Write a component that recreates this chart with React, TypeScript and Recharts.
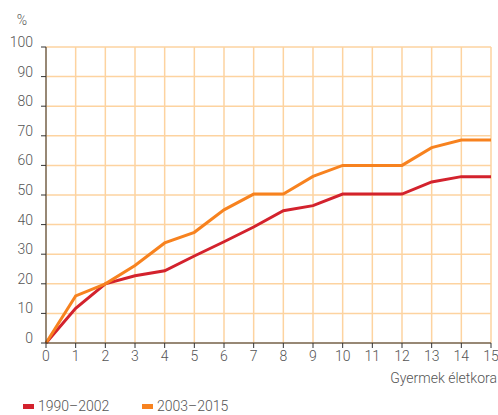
import { LineChart, Line, XAxis, YAxis, CartesianGrid, Legend } from "recharts";

// Gyermek életkora (years) and share in % for the two cohorts
const ages = [0, 1, 2, 3, 4, 5, 6, 7, 8, 9, 10, 11, 12, 13, 14, 15];
const cohort1990 = [0, 11.7, 20, 22.7, 24.4, 29.4, 34.2, 39.2, 44.7, 46.4, 50.3, 50.3, 50.3, 54.4, 56.2, 56.2];
const cohort2003 = [0, 15.9, 20, 26.2, 33.8, 37.4, 45, 50.3, 50.3, 56.3, 60, 60, 60, 66, 68.6, 68.6];
const yTicks = [0, 10, 20, 30, 40, 50, 60, 70, 80, 90, 100];

const RED = "#d3222d";
const ORANGE = "#f7821f";
const GRID = "#fdd3a0";
const TEXT = "#555";
const FONT = "Roboto, sans-serif";
const FS = 14;

const data = ages.map((age, i) => ({
  age,
  a: cohort1990[i],
  b: cohort2003[i],
}));

if (typeof document !== "undefined") document.body.style.margin = "0";

const YTick = ({ x, y, payload }: any) => (
  <text x={x} y={y - 5} textAnchor="end" dominantBaseline="central" fill={TEXT} fontSize={FS} fontWeight={300} fontFamily={FONT}>
    {payload.value}
  </text>
);

const XTick = ({ x, y, payload }: any) => (
  <text x={x} y={y + 6} textAnchor="middle" dominantBaseline="central" fill={TEXT} fontSize={FS} fontWeight={300} fontFamily={FONT}>
    {payload.value}
  </text>
);

const LegendContent = () => (
  <div style={{ height: 30, position: "relative", fontFamily: FONT, fontSize: FS, fontWeight: 300, color: TEXT }}>
    {[
      { name: "1990–2002", color: RED, left: 23 },
      { name: "2003–2015", color: ORANGE, left: 142 },
    ].map((it) => (
      <div key={it.name} style={{ position: "absolute", left: it.left, top: 13, display: "flex", alignItems: "center", lineHeight: "16px" }}>
        <span style={{ width: 11, height: 5, background: it.color, display: "inline-block", marginRight: 4 }} />
        {it.name}
      </div>
    ))}
  </div>
);

export default function App() {
  return (
    <div style={{ position: "relative", width: 498, height: 415 }}>
      <LineChart width={498} height={415} data={data} margin={{ top: 47, right: 7, bottom: 0, left: 0 }}>
        <CartesianGrid stroke={GRID} strokeWidth={1.5} />
        <XAxis
          dataKey="age"
          type="number"
          domain={[0, 15]}
          ticks={ages}
          interval={0}
          stroke="#333"
          tickSize={5}
          height={42}
          tick={<XTick />}
          label={{
            value: "Gyermek életkora",
            position: "insideBottomRight",
            offset: 0,
            dx: 6,
            dy: -2,
            fill: TEXT,
            fontSize: FS,
            fontWeight: 300,
            fontFamily: FONT,
          }}
        />
        <YAxis
          type="number"
          domain={[0, 100]}
          ticks={yTicks}
          interval={0}
          width={46}
          stroke="#333"
          tickSize={5}
          tickMargin={8}
          tick={<YTick />}
          label={{
            value: "%",
            position: "top",
            offset: 0,
            dy: -22,
            dx: -1,
            fill: TEXT,
            fontSize: FS,
            fontWeight: 300,
            fontFamily: FONT,
          }}
        />
        <Legend verticalAlign="bottom" content={<LegendContent />} />
        <Line type="linear" dataKey="a" name="1990–2002" stroke={RED} strokeWidth={3} dot={false} isAnimationActive={false} />
        <Line type="linear" dataKey="b" name="2003–2015" stroke={ORANGE} strokeWidth={3} dot={false} isAnimationActive={false} />
      </LineChart>
    </div>
  );
}
